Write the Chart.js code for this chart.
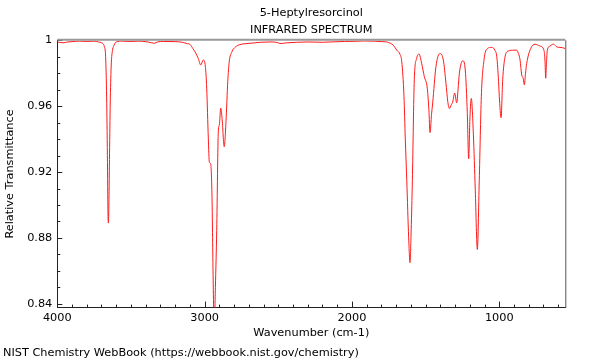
<!DOCTYPE html>
<html>
<head>
<meta charset="utf-8">
<script src="https://cdn.jsdelivr.net/npm/chart.js@4/dist/chart.umd.min.js"></script>
<style>
  html, body { margin: 0; padding: 0; background: #fff; }
  #wrap { width: 600px; height: 360px; }
</style>
</head>
<body>
<div id="wrap"><canvas id="chart" width="600" height="360"></canvas></div>
<script>
// spectrum (wavenumber cm-1 -> relative transmittance)
const wavenumbers = [
  4000, 3960, 3930, 3900, 3850, 3800, 3750, 3720, 3700, 3680, 3672, 3665, 3660, 3656, 3653,
  3649, 3645, 3640, 3634, 3627, 3615, 3600, 3560, 3500, 3450, 3400, 3360, 3340, 3320, 3280,
  3200, 3150, 3120, 3099, 3080, 3065, 3043, 3027, 3009, 2995, 2986, 2975, 2968, 2959, 2950,
  2943, 2935, 2927, 2918, 2907, 2900, 2891, 2882, 2867, 2855, 2843, 2833, 2815, 2790, 2765,
  2720, 2692, 2620, 2556, 2500, 2488, 2450, 2375, 2300, 2200, 2150, 2050, 1980, 1923, 1850,
  1800, 1764, 1740, 1719, 1696, 1674, 1662, 1647, 1638, 1628, 1615, 1606, 1598, 1590, 1577,
  1561, 1545, 1527, 1509, 1489, 1478, 1470, 1460, 1452, 1430, 1403, 1380, 1362, 1350, 1339,
  1325, 1316, 1303, 1289, 1280, 1271, 1248, 1231, 1217, 1208, 1199, 1190, 1176, 1163, 1149,
  1136, 1122, 1104, 1081, 1051, 1030, 1017, 1005, 1000, 988, 977, 961, 939, 900, 882,
  870, 859, 848, 838, 830, 822, 814, 787, 758, 724, 697, 690, 685, 680, 674,
  656, 633, 610, 588, 570, 552
];
const transmittance = [
  0.9990, 0.9985, 0.9990, 0.9992, 0.9995, 0.9993, 0.9995, 0.9990, 0.9985, 0.9960, 0.9900, 0.9650, 0.9300, 0.8950, 0.8890,
  0.9050, 0.9350, 0.9650, 0.9850, 0.9930, 0.9970, 0.9990, 0.9995, 0.9993, 0.9995, 0.9992, 0.9985, 0.9982, 0.9990, 0.9993,
  0.9992, 0.9988, 0.9980, 0.9975, 0.9950, 0.9930, 0.9890, 0.9850, 0.9880, 0.9840, 0.9710, 0.9405, 0.9260, 0.9250, 0.9050,
  0.8600, 0.8250, 0.8500, 0.8845, 0.9450, 0.9486, 0.9588, 0.9530, 0.9354, 0.9507, 0.9750, 0.9870, 0.9930, 0.9960, 0.9973,
  0.9980, 0.9982, 0.9988, 0.9990, 0.9985, 0.9980, 0.9984, 0.9988, 0.9990, 0.9988, 0.9990, 0.9993, 0.9994, 0.9996, 0.9995,
  0.9992, 0.9990, 0.9982, 0.9970, 0.9940, 0.9915, 0.9870, 0.9660, 0.9400, 0.9150, 0.8800, 0.8650, 0.8850, 0.9150, 0.9760,
  0.9890, 0.9917, 0.9860, 0.9780, 0.9710, 0.9580, 0.9440, 0.9550, 0.9620, 0.9840, 0.9920, 0.9880, 0.9740, 0.9630, 0.9586,
  0.9610, 0.9626, 0.9680, 0.9620, 0.9700, 0.9800, 0.9876, 0.9820, 0.9555, 0.9280, 0.9535, 0.9647, 0.9430, 0.9090, 0.8730,
  0.9150, 0.9657, 0.9880, 0.9950, 0.9957, 0.9940, 0.9900, 0.9750, 0.9660, 0.9530, 0.9760, 0.9900, 0.9935, 0.9940, 0.9940,
  0.9920, 0.9880, 0.9790, 0.9770, 0.9730, 0.9800, 0.9860, 0.9950, 0.9976, 0.9965, 0.9940, 0.9880, 0.9770, 0.9860, 0.9940,
  0.9965, 0.9977, 0.9960, 0.9957, 0.9955, 0.9950
];

const xTickValues = [4000, 3000, 2000, 1000];
const xTickLabels = ['4000', '3000', '2000', '1000'];
const yTickValues = [0.84, 0.88, 0.92, 0.96, 1];
const yTickLabels = ['0.84', '0.88', '0.92', '0.96', '1'];

const FONT = { family: 'DejaVu Sans', size: 11.3 };

// inward tick marks + top/right frame, matching the NIST plot style
const frame = {
  id: 'frame',
  afterDatasetsDraw(chart) {
    const { ctx, chartArea: a, scales: { x, y } } = chart;
    ctx.save();
    ctx.strokeStyle = '#222';
    ctx.lineWidth = 1;
    ctx.beginPath();
    for (let w = 4000; w >= x.min; w -= 100) {
      const px = Math.round(x.getPixelForValue(w)) + 0.5;
      const len = w % 1000 === 0 ? 6 : 3;
      ctx.moveTo(px, a.bottom);
      ctx.lineTo(px, a.bottom - len);
    }
    for (let i = 84; i <= 100; i++) {
      const py = Math.round(y.getPixelForValue(i / 100)) + 0.5;
      const len = i % 4 === 0 ? 5 : 3;
      ctx.moveTo(a.left, py);
      ctx.lineTo(a.left + len, py);
    }
    ctx.stroke();

    ctx.strokeStyle = '#999';
    ctx.lineWidth = 2;
    ctx.beginPath();
    ctx.moveTo(a.left, a.top - 0.5);
    ctx.lineTo(a.right, a.top - 0.5);
    ctx.stroke();

    ctx.strokeStyle = '#555';
    ctx.lineWidth = 1;
    ctx.beginPath();
    ctx.moveTo(a.right + 0.5, a.top);
    ctx.lineTo(a.right + 0.5, a.bottom);
    ctx.stroke();
    ctx.restore();
  }
};

new Chart(document.getElementById('chart'), {
  type: 'line',
  data: {
    datasets: [{
      data: wavenumbers.map((w, i) => ({ x: w, y: transmittance[i] })),
      borderColor: '#ff1a1a',
      borderWidth: 1,
      pointRadius: 0,
      cubicInterpolationMode: 'monotone',
      fill: false
    }]
  },
  options: {
    responsive: false,
    animation: false,
    events: [],
    layout: { padding: { left: 3, right: 34.7, top: 0, bottom: 0 } },
    plugins: {
      legend: { display: false },
      tooltip: { enabled: false },
      title: {
        display: true,
        text: ['5-Heptylresorcinol', 'INFRARED SPECTRUM'],
        color: '#000',
        font: { ...FONT, weight: 'normal', lineHeight: 1.505 },
        padding: { top: 4.5, bottom: 1.8 },
        fullSize: false
      },
      subtitle: {
        display: true,
        position: 'bottom',
        align: 'start',
        text: 'NIST Chemistry WebBook (https://webbook.nist.gov/chemistry)',
        color: '#000',
        font: { ...FONT, size: 11.3, lineHeight: 1.2 },
        padding: { top: 4, bottom: 0 },
        fullSize: true
      }
    },
    scales: {
      x: {
        type: 'linear',
        reverse: true,
        min: 552,
        max: 4000,
        afterBuildTicks: s => { s.ticks = xTickValues.map(v => ({ value: v })); },
        afterFit: s => { s.height = 34.86; },
        grid: { display: false, drawTicks: false },
        border: { display: true, color: '#222', width: 1 },
        ticks: {
          color: '#000',
          font: FONT,
          padding: 3.6,
          maxRotation: 0,
          autoSkip: false,
          callback: (v) => xTickLabels[xTickValues.indexOf(v)]
        },
        title: {
          display: true,
          text: 'Wavenumber (cm-1)',
          color: '#000',
          font: FONT,
          padding: { top: 0, bottom: 2.4 }
        }
      },
      y: {
        type: 'linear',
        min: 0.8377,
        max: 1,
        afterBuildTicks: s => { s.ticks = yTickValues.map(v => ({ value: v })); },
        afterFit: s => { s.width = 54.3; },
        grid: { display: false, drawTicks: false },
        border: { display: true, color: '#222', width: 1 },
        ticks: {
          color: '#000',
          font: FONT,
          padding: 5,
          autoSkip: false,
          callback: (v) => yTickLabels[yTickValues.indexOf(v)]
        },
        title: {
          display: true,
          text: 'Relative Transmittance',
          color: '#000',
          font: FONT,
          padding: { top: 0.3, bottom: 0 }
        }
      }
    }
  },
  plugins: [frame]
});
</script>
</body>
</html>
